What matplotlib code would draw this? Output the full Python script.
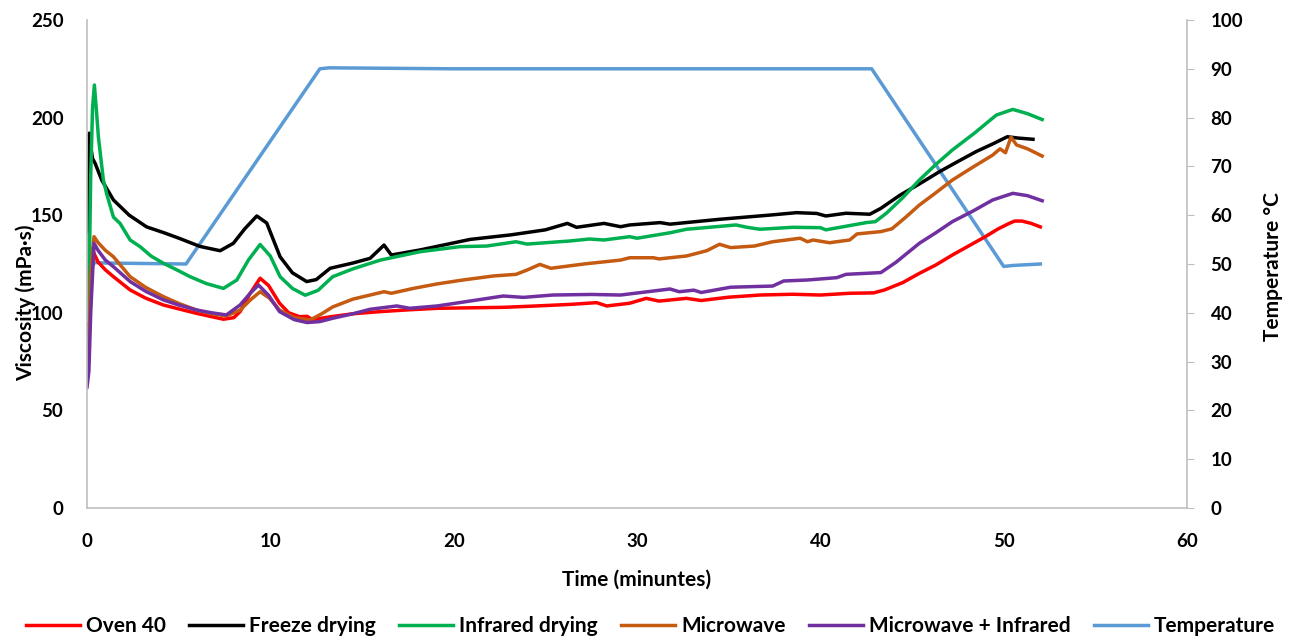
"""Viscosity profiles of the dried samples with the temperature program."""

import matplotlib

matplotlib.use("Agg")
import matplotlib.pyplot as plt

plt.rcParams["font.family"] = ["Lato", "DejaVu Sans"]
plt.rcParams["font.weight"] = "bold"

# --- data (time in minutes) ---
oven_t = [0, 0.1, 0.2, 0.3, 0.4, 0.6, 1.0, 1.44, 2.35, 3.2, 4.16, 5.0, 5.98, 6.8, 7.44, 8.0,
          8.35, 8.9, 9.44, 9.9, 10.5, 11.0, 11.6, 12.0, 12.3, 13.3, 14.5, 16.0, 17.5, 19.1,
          20.5, 22.7, 24.5, 26.35, 27.8, 28.35, 29.6, 30.5, 31.2, 32.7, 33.5, 35.0, 36.7,
          38.5, 40.0, 41.6, 42.9, 43.5, 44.5, 45.4, 46.3, 47.2, 48.1, 49.0, 49.7, 50.3,
          50.6, 51.0, 51.5, 52.0]
oven_v = [66, 95, 125, 133, 130, 126, 122, 118.5, 111.7, 107.5, 104, 102, 99.7, 98, 96.7,
          97.5, 100.6, 110, 117.7, 114, 104.9, 100, 98, 98.2, 96.5, 98, 99.5, 100.6, 101.5,
          102.3, 102.5, 102.8, 103.5, 104.3, 105.2, 103.5, 104.9, 107.4, 106, 107.4, 106.3,
          108, 109.1, 109.5, 109.1, 110, 110.2, 111.7, 115.5, 120.2, 124.5, 129.6, 134.3,
          139, 143, 145.8, 147, 147, 145.8, 144]

freeze_t = [0, 0.05, 0.12, 0.2, 0.3, 0.44, 0.8, 1.44, 2.3, 3.25, 4.2, 5.07, 6.16, 7.26,
            7.98, 8.6, 9.26, 9.8, 10.53, 11.2, 11.98, 12.5, 13.26, 14.5, 15.44, 16.2, 16.6,
            18.17, 20.9, 23.1, 25.0, 26.2, 26.7, 28.2, 29.1, 29.6, 31.26, 31.8, 34.5, 37.3,
            38.7, 39.8, 40.3, 41.4, 42.7, 43.3, 44.35, 45.4, 46.5, 47.5, 48.5, 49.4, 50.2,
            50.8, 51.6]
freeze_v = [80, 130, 192, 185, 179, 176.6, 168, 157.8, 150, 144, 141, 138, 134, 131.8,
            135.6, 143, 149.6, 146, 128.7, 120.5, 116, 117, 122.8, 125.5, 127.9, 134.7,
            129.6, 132.2, 137.6, 139.9, 142.5, 145.8, 143.8, 145.8, 144.1, 145, 146.2,
            145.4, 147.9, 150.1, 151.3, 150.9, 149.6, 151, 150.5, 153.5, 160.3, 166, 172.3,
            177.5, 182.6, 186.5, 190.2, 189.5, 188.9]

infrared_t = [0, 0.08, 0.2, 0.3, 0.4, 0.5, 0.62, 0.89, 1.07, 1.44, 1.8, 2.35, 2.89, 3.5,
              4.16, 5.0, 5.62, 6.5, 7.44, 8.17, 8.8, 9.44, 10.0, 10.53, 11.2, 11.9, 12.6,
              13.4, 14.5, 16.0, 18.17, 20.35, 21.8, 23.4, 24.0, 26.35, 27.4, 28.2, 29.6,
              30.0, 31.8, 32.7, 35.4, 36.0, 36.7, 38.5, 40.0, 40.3, 42.5, 43.0, 43.6, 44.5,
              45.4, 46.3, 47.2, 48.4, 49.6, 50.5, 51.3, 52.1]
infrared_v = [140, 96, 170, 205, 216.7, 205, 190, 168, 161, 149, 145.8, 137.3, 133.9, 129,
              125.4, 121.5, 118.5, 115, 112.5, 116.8, 127, 135, 129, 118.5, 112.5, 109,
              111.5, 118.5, 122.5, 127, 131.3, 133.9, 134.2, 136.4, 135.2, 136.8, 137.8,
              137.3, 139, 138.2, 141, 142.8, 145, 143.8, 142.8, 143.8, 143.6, 142.5, 146.2,
              146.7, 151, 159, 168, 176, 183.4, 192, 201.3, 204.2, 202, 199]

micro_t = [0, 0.1, 0.2, 0.38, 0.6, 1.0, 1.44, 2.35, 3.2, 4.16, 5.0, 5.98, 6.8, 7.6, 8.35,
           8.9, 9.44, 9.95, 10.5, 11.3, 12.16, 12.8, 13.4, 14.5, 15.44, 16.2, 16.6, 17.8,
           19.1, 20.5, 22.2, 23.4, 24.0, 24.7, 25.3, 27.1, 29.1, 29.6, 30.9, 31.2, 32.7,
           33.8, 34.5, 35.1, 36.4, 37.4, 38.9, 39.3, 39.6, 40.5, 41.6, 42.0, 43.3, 43.9,
           44.6, 45.4, 46.3, 47.2, 48.3, 49.4, 49.8, 50.1, 50.4, 50.7, 51.3, 52.1]
micro_v = [65, 80, 120, 139, 136, 132, 128.7, 118.5, 113, 108.3, 104.8, 101.4, 99.5, 98.4,
           101.4, 106.5, 110.8, 107.5, 101.4, 97.5, 96.3, 99.5, 103, 107, 109.1, 110.8,
           110, 112.5, 114.8, 116.8, 118.9, 119.7, 121.9, 124.8, 122.8, 125, 127, 128.2,
           128.2, 127.6, 129.1, 131.8, 135.1, 133.4, 134.2, 136.4, 138.2, 136.4, 137.3,
           135.9, 137.3, 140.4, 141.6, 143, 148.5, 155.2, 161.5, 168, 174.5, 180.8, 184,
           182, 190, 186, 184, 180.3]

micro_ir_t = [0, 0.1, 0.2, 0.38, 0.6, 1.0, 1.44, 2.35, 3.2, 4.16, 5.0, 5.98, 6.8, 7.6, 8.35,
              8.9, 9.35, 9.9, 10.5, 11.3, 12.0, 12.7, 13.4, 14.5, 15.44, 16.9, 17.6, 19.1,
              21.3, 22.7, 23.8, 25.4, 27.5, 29.1, 31.8, 32.3, 33.1, 33.5, 35.1, 37.4, 38.0,
              39.3, 40.9, 41.4, 43.3, 44.1, 45.4, 46.3, 47.2, 48.3, 49.4, 50.5, 51.3, 52.1]
micro_ir_v = [62, 70, 100, 135.6, 132, 127, 123.6, 116, 111, 106.6, 104, 101.4, 100, 98.9,
              104, 110, 114.2, 109, 100.6, 96.5, 95, 95.5, 97.2, 99.5, 101.8, 103.5, 102.3,
              103.5, 106.6, 108.6, 107.9, 109.1, 109.4, 109.1, 112.2, 110.8, 111.6, 110.4,
              113.1, 113.7, 116.3, 116.8, 118, 119.7, 120.6, 125.7, 135.6, 141, 146.7, 152,
              157.8, 161.2, 160, 157.4]

temp_t = [0, 0.15, 0.4, 1.0, 5.4, 12.7, 13.2, 20.0, 42.8, 50.0, 50.5, 52.0]
temp_v = [50, 48.3, 50.3, 50.2, 50, 90, 90.2, 90, 90, 49.5, 49.7, 50]

SPINE = "#BFBFBF"

fig = plt.figure(figsize=(13.09, 6.41), dpi=100)
ax = fig.add_axes([0.0665, 0.2075, 0.8403, 0.7613])
ax2 = ax.twinx()

lw = 2.5
h1, = ax.plot(oven_t, oven_v, color="#FF0000", lw=lw, label="Oven 40")
h2, = ax.plot(freeze_t, freeze_v, color="#000000", lw=lw, label="Freeze drying")
h3, = ax.plot(infrared_t, infrared_v, color="#00B050", lw=lw, label="Infrared drying")
h4, = ax.plot(micro_t, micro_v, color="#C55A11", lw=lw, label="Microwave")
h5, = ax.plot(micro_ir_t, micro_ir_v, color="#7030A0", lw=lw, label="Microwave + Infrared")
h6, = ax2.plot(temp_t, temp_v, color="#5B9BD5", lw=lw, label="Temperature")
ax.set_zorder(ax2.get_zorder() + 1)
ax.patch.set_visible(False)

ax.set_xlim(0, 60)
ax.set_ylim(0, 250)
ax2.set_ylim(0, 100)
ax.set_xticks(range(0, 61, 10))
ax.set_yticks(range(0, 251, 50))
ax2.set_yticks(range(0, 101, 10))

for a in (ax, ax2):
    for sp in a.spines.values():
        sp.set_color(SPINE)
        sp.set_linewidth(1.2)
    a.spines["top"].set_visible(False)
ax.spines["right"].set_visible(False)
ax2.spines["left"].set_visible(False)
ax2.spines["bottom"].set_visible(False)

ax.tick_params(axis="x", length=0, labelsize=13.5, pad=18)
ax.tick_params(axis="y", length=0, labelsize=13.5, pad=17)
ax2.tick_params(axis="y", length=5, color=SPINE, labelsize=13.5, pad=12)
for lab in ax.get_xticklabels() + ax.get_yticklabels() + ax2.get_yticklabels():
    lab.set_fontweight("bold")

ax.set_xlabel("Time (minuntes)", fontsize=15, fontweight="bold")
ax.xaxis.set_label_coords(0.5, -0.127)
ax.set_ylabel("Viscosity (mPa·s)", fontsize=15, fontweight="bold")
ax.yaxis.set_label_coords(-0.046, 0.42)
ax2.set_ylabel("Temperature °C", fontsize=15, fontweight="bold")
ax2.yaxis.set_label_coords(1.069, 0.494)

fig.legend(handles=[h1, h2, h3, h4, h5, h6], loc="center", ncol=6,
           bbox_to_anchor=(0.497, 0.023), frameon=False, handlelength=2.6,
           handletextpad=0.3, columnspacing=1.1, borderaxespad=0,
           prop={"size": 15, "weight": "bold"})

fig.savefig("out.png", dpi=100)
